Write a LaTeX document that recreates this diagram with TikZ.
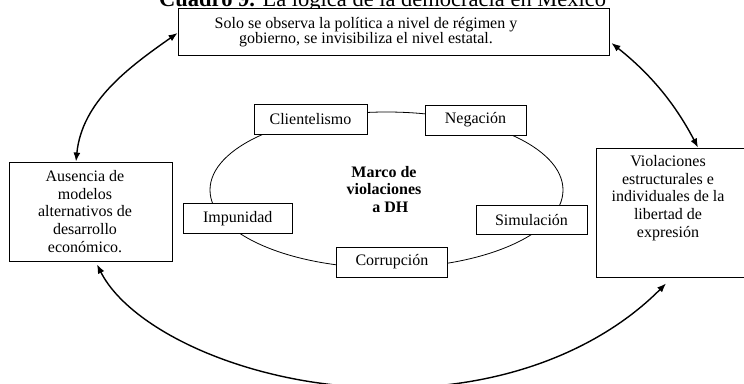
\documentclass[tikz,border=0pt]{standalone}
\usepackage{fontspec}
\setmainfont{Liberation Serif}
\usetikzlibrary{arrows.meta,shapes.geometric}
\begin{document}
\begin{tikzpicture}[x=1pt,y=-1pt,
  box/.style={draw=black, line width=0.9pt, fill=white, inner sep=0pt},
  txt/.style={font=\fontsize{16}{17.7}\selectfont, align=center, inner sep=0pt},
  lbl/.style={box, font=\fontsize{16}{17.7}\selectfont, minimum height=30pt},
  arc/.style={line width=1.4pt, {Latex[length=9pt,width=7pt]}-{Latex[length=9pt,width=7pt]}}]
\useasboundingbox (0,0) rectangle (744,383);
\clip (0,0) rectangle (744,383);
\fill[white] (0,0) rectangle (744,383);

\node[anchor=base west, inner sep=0pt, font=\fontsize{22.5}{24}\selectfont] (title) at (159,6.5) {\textbf{Cuadro 9.} La lógica de la democracia en México};

\node[box, minimum width=431pt, minimum height=46.5pt] (top) at (393.5,31.75) {};
\node[txt, font=\fontsize{16}{15}\selectfont] (toptxt) at (366,31.8) {Solo se observa la política a nivel de régimen y\\gobierno, se invisibiliza el nivel estatal.};

\node[box, minimum width=162.5pt, minimum height=99pt] (left) at (90.75,211.5) {};
\node[txt] (lefttxt) at (85,211.3) {Ausencia de\\modelos\\alternativos de\\desarrollo\\económico.};

\node[box, minimum width=160pt, minimum height=129pt] (right) at (676,212.5) {};
\node[txt] (righttxt) at (668,198) {Violaciones\\estructurales e\\individuales de la\\libertad de\\expresión};

\node[draw, ellipse, line width=0.8pt, minimum width=353pt, minimum height=156pt, inner sep=0pt] (ring) at (386.5,190) {};

\node[txt, font=\fontsize{16}{17.5}\selectfont\bfseries] (marco) at (384,189.5) {Marco de\\violaciones\\\hspace*{0.8em}a DH};

\node[lbl, minimum width=113pt] (clien) at (310.5,119.5) {Clientelismo};
\node[lbl, minimum width=101pt] (neg) at (475.5,120) {Negación};
\node[lbl, minimum width=109.5pt] (imp) at (237.75,218.5) {Impunidad};
\node[lbl, minimum width=111pt, minimum height=29.5pt] (sim) at (531.5,219.75) {Simulación};
\node[lbl, minimum width=111pt] (corr) at (392,262) {Corrupción};

\draw[arc] ([yshift=-1.25pt]top.west) .. controls +(-49,34.4) and +(6,-60) .. ([xshift=-14.75pt]left.north);
\draw[arc] ([xshift=2pt,yshift=-11.25pt]top.east) .. controls +(39,31) and +(-23.2,-44.3) .. ([xshift=22pt]right.north);
\coordinate (bot) at (390,388);
\draw[arc] ([xshift=6.25pt,yshift=-3pt]left.south) .. controls (130,330) and (250,388) .. (bot) .. controls (520,388) and (610,340) .. ([xshift=-10pt,yshift=-6pt]right.south);
\end{tikzpicture}
\end{document}
